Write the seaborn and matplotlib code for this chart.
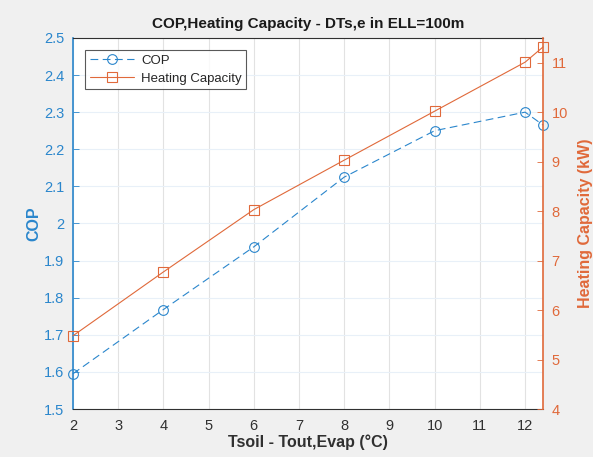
import matplotlib
matplotlib.use("Agg")
from matplotlib import pyplot as plt
import numpy as np
import pandas as pd
import seaborn as sns

# dati
dt = [2, 4, 6, 8, 10, 12, 12.4]
cop = [1.595, 1.768, 1.937, 2.125, 2.250, 2.300, 2.265]
heating_cap = [5.48, 6.77, 8.03, 9.03, 10.02, 11.01, 11.32]

blu = "#2a86cc"
arancio = "#e0693a"
grigio = "#303030"

sns.set_style("white")
plt.rcParams["font.family"] = ["Liberation Sans", "DejaVu Sans"]

df = pd.DataFrame({"dt": dt, "COP": cop, "Heating Capacity": heating_cap})

fig = plt.figure(figsize=(5.93, 4.57), dpi=100, facecolor="#f0f0f0")
ax = fig.add_axes([0.123, 0.105, 0.793, 0.812])
ax2 = ax.twinx()

sns.lineplot(data=df, x="dt", y="COP", ax=ax, color=blu, lw=0.8,
             linestyle=(0, (7, 4)), marker="o", markersize=7,
             markerfacecolor="none", markeredgecolor=blu, markeredgewidth=0.8,
             label="COP", legend=False, clip_on=False)
sns.lineplot(data=df, x="dt", y="Heating Capacity", ax=ax2, color=arancio, lw=0.8,
             marker="s", markersize=6.5, markerfacecolor="none",
             markeredgecolor=arancio, markeredgewidth=0.8,
             label="Heating Capacity", legend=False, clip_on=False)

ax.set_xlim(2, 12.4)
ax.set_ylim(1.5, 2.5)
ax2.set_ylim(4, 11.5)
ax.set_xticks(range(2, 13))
ax.set_yticks(np.arange(1.5, 2.51, 0.1))
ax.set_yticklabels(["1.5", "1.6", "1.7", "1.8", "1.9", "2", "2.1", "2.2", "2.3", "2.4", "2.5"])
ax2.set_yticks(range(4, 12))

ax.grid(True, axis="x", color="#e2e2e2", lw=0.8)
ax.grid(True, axis="y", color="#e8f0f8", lw=0.8)
ax.set_axisbelow(True)

ax.tick_params(axis="x", direction="in", length=4, colors=grigio, labelsize=10.5, width=0.6, pad=7)
ax.tick_params(axis="y", direction="in", length=4, colors=blu, labelsize=10.5, width=0.6, pad=6)
ax2.tick_params(axis="y", direction="in", length=4, colors=arancio, labelsize=10.5, width=0.6, pad=6)

for s in ["top", "bottom"]:
    ax.spines[s].set_color(grigio)
    ax.spines[s].set_linewidth(0.8)
ax.spines["left"].set_color(blu)
ax.spines["left"].set_linewidth(1.2)
ax2.spines["right"].set_color(arancio)
ax2.spines["right"].set_linewidth(1.2)
ax2.spines["left"].set_visible(False)
ax2.spines["top"].set_visible(False)
ax2.spines["bottom"].set_visible(False)
ax.spines["right"].set_visible(False)

ax.set_xlabel("Tsoil - Tout,Evap (°C)", fontsize=11.5, fontweight="bold", color=grigio, labelpad=1)
ax.set_ylabel("COP", fontsize=11.5, fontweight="bold", color=blu, labelpad=2)
ax2.set_ylabel("Heating Capacity (kW)", fontsize=11.5, fontweight="bold", color=arancio, labelpad=7)
ax.set_title("COP,Heating Capacity - DTs,e in ELL=100m", fontsize=11, fontweight="bold", color="#1a1a1a", pad=7)

h1, l1 = ax.get_legend_handles_labels()
h2, l2 = ax2.get_legend_handles_labels()
leg = ax2.legend(h1 + h2, l1 + l2, loc="upper left", bbox_to_anchor=(0.02, 0.975),
                 fontsize=9.5, frameon=True, fancybox=False, borderpad=0.35,
                 handlelength=3.4, handletextpad=0.5, labelspacing=0.45, borderaxespad=0.2)
leg.get_frame().set_edgecolor(grigio)
leg.get_frame().set_linewidth(0.8)

fig.savefig("out.png", dpi=100, facecolor=fig.get_facecolor())
